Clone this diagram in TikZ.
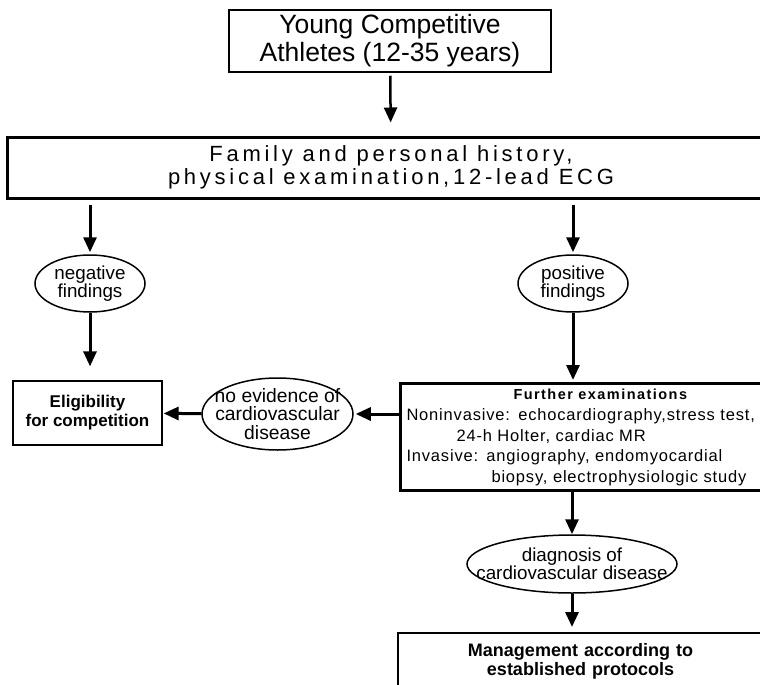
\documentclass[tikz,border=0pt]{standalone}
\usepackage{fontspec}
\setmainfont{Liberation Sans}
\newfontfamily\widefont[LetterSpace=17]{Liberation Sans}
\newfontfamily\spacedfont[LetterSpace=5]{Liberation Sans}
\newfontfamily\headfont[LetterSpace=10]{Liberation Sans}
\usetikzlibrary{shapes.geometric,arrows.meta}

\begin{document}
\begin{tikzpicture}[x=1pt,y=-1pt]
	\tikzstyle{box} = [draw, rectangle, inner sep=0pt, align=center]
	\tikzstyle{oval} = [draw, ellipse, line width=1.5pt, inner sep=0pt]
	\tikzstyle{ovaltext} = [align=center, inner sep=0pt, font=\fontsize{18.8}{18.5}\selectfont]
	\tikzstyle{flow} = [line width=3pt, -{Triangle[length=15pt,width=13pt]}]

	\useasboundingbox (0,0) rectangle (760,685);

	\draw (390,41) node[box, line width=1.5pt, minimum width=322pt, minimum height=62pt, font=\fontsize{26.5}{28}\selectfont] (athletes) {Young Competitive\\Athletes (12-35 years)};

	\draw (391,167.5) node[box, line width=3pt, minimum width=768pt, minimum height=61pt, font=\widefont\fontsize{22}{22.5}\selectfont] (history) {Family and personal history,\\physical examination,12-lead ECG};

	\draw (90,283.5) node[oval, minimum width=110pt, minimum height=57pt] (neg) {} node[ovaltext] (negtext) {negative\\findings};
	\draw (573,283.5) node[oval, minimum width=110pt, minimum height=57pt] (pos) {} node[ovaltext] (postext) {positive\\findings};

	\draw (87.5,413) node[box, line width=1.3pt, minimum width=149pt, minimum height=64pt, font=\bfseries\fontsize{17}{19}\selectfont] (elig) {Eligibility\\for competition};
	\draw (277.5,414) node[oval, minimum width=151pt, minimum height=72pt] (nev) {} node[ovaltext, font=\fontsize{19.3}{18.5}\selectfont] (nevtext) {no evidence of\\cardiovascular\\disease};

	\draw (399,382) node[box, anchor=north west, line width=3pt, align=left, text width=394pt, inner xsep=6pt, inner ysep=5pt, font=\spacedfont\fontsize{16.5}{20.5}\selectfont] (further) {%
		\hspace*{107pt}{\headfont\bfseries\fontsize{14.5}{20.5}\selectfont Further examinations}\\[1pt]
		Noninvasive: echocardiography,stress test,\\
		\hspace*{50pt}24-h Holter, cardiac MR\\
		Invasive: angiography, endomyocardial\\
		\hspace*{85pt}biopsy, electrophysiologic study};

	\draw (572,564) node[oval, minimum width=210pt, minimum height=58pt] (diag) {} node[ovaltext] (diagtext) {diagnosis of\\cardiovascular disease};

	\draw (397,632) node[box, anchor=north west, line width=2pt, text width=353pt, inner xsep=6pt, inner ysep=10pt, font=\bfseries\fontsize{18}{19.5}\selectfont] (mgmt) {Management according to\\established protocols\\ };

	\draw[flow, line width=2.5pt, shorten <=3pt, shorten >=13pt] (athletes) -- (history);

	\draw[flow, shorten <=5pt, shorten >=2pt] (neg |- history.south) -- (neg);
	\draw[flow, shorten <=5pt, shorten >=2pt] (pos |- history.south) -- (pos);

	\draw[flow, shorten >=14pt] (neg) -- (neg |- elig.north);
	\draw[flow, shorten >=2pt] (pos) -- (pos |- further.north);

	\draw[flow, shorten >=2pt] (further.west |- nev) -- (nev);
	\draw[flow, shorten >=1pt] (nev) -- (elig);

	\draw[flow] (further.south -| diag) -- (diag);
	\draw[flow, shorten >=5pt] (diag) -- (diag |- mgmt.north);
\end{tikzpicture}
\end{document}
